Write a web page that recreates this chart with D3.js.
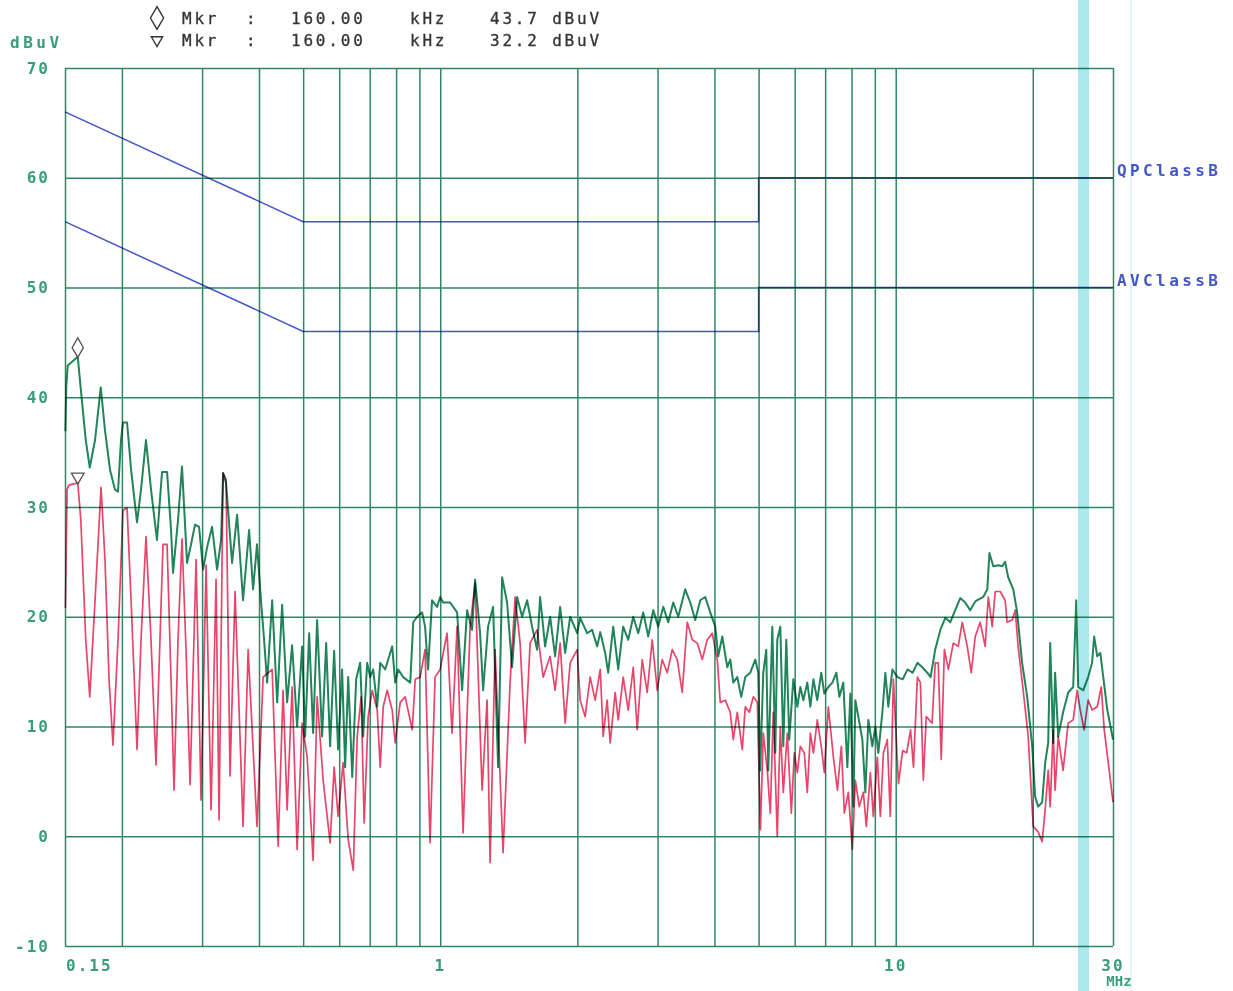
<!DOCTYPE html>
<html>
<head>
<meta charset="utf-8">
<script src="https://cdn.jsdelivr.net/npm/d3@7"></script>
<style>
  body { margin: 0; background: #fff; }
  svg { display: block; font-family: "DejaVu Sans Mono", monospace; }
</style>
</head>
<body>
<svg id="chart" width="1233" height="991"></svg>
<script>
// grid + labels
const gridFreqs = [0.15, 0.2, 0.3, 0.4, 0.5, 0.6, 0.7, 0.8, 0.9, 1, 2, 3, 4, 5, 6, 7, 8, 9, 10, 20, 30];
const xLabelFreqs = [0.15, 1, 10, 30];
const xLabelText = ['0.15', '1', '10', '30'];
const yTicks = [-10, 0, 10, 20, 30, 40, 50, 60, 70];

// EN 55022 class B limits (MHz, dBuV)
const qpLimit = [[0.15, 66], [0.5, 56], [5, 56], [5, 60], [30, 60]];
const avLimit = [[0.15, 56], [0.5, 46], [5, 46], [5, 50], [30, 50]];

// markers
const markerFreq = 0.16;
const markerPeak = 43.7;
const markerAvg = 32.2;

// peak trace (green)
const peakFreq = [0.1503,0.1510,0.1521,0.16,0.1625,0.1666,0.1700,0.1746,0.1797,0.1836,0.1883,0.1931,0.1961,0.1991,0.2011,0.2053,0.2095,0.2159,0.2203,0.2259,0.2317,0.2388,0.2450,0.2513,0.2564,0.2590,0.2656,0.2710,0.2780,0.2837,0.2895,0.2954,0.3015,0.3076,0.3155,0.3236,0.3302,0.3336,0.3386,0.3491,0.3581,0.3690,0.3805,0.3882,0.3960,0.4040,0.4104,0.4168,0.4275,0.4385,0.4496,0.4611,0.4729,0.4850,0.4974,0.5050,0.5154,0.5259,0.5366,0.5504,0.5617,0.5731,0.5848,0.5967,0.6088,0.6183,0.6279,0.6409,0.6537,0.6670,0.6772,0.6911,0.7017,0.7124,0.7270,0.7382,0.7570,0.7843,0.7963,0.8085,0.8292,0.8593,0.8723,0.8900,0.9125,0.9261,0.9403,0.9594,0.9841,0.9995,1.0145,1.0513,1.0890,1.1168,1.1454,1.1745,1.1926,1.2231,1.2420,1.2735,1.3063,1.3398,1.3670,1.4021,1.4380,1.4750,1.5126,1.5513,1.5910,1.6318,1.6568,1.6993,1.7428,1.7875,1.8333,1.8803,1.9285,1.9984,2.0287,2.1016,2.1546,2.2108,2.2457,2.3020,2.3375,2.3975,2.4590,2.5215,2.5868,2.6529,2.7210,2.7905,2.8620,2.9353,3.0106,3.0875,3.1668,3.2475,3.3310,3.4506,3.5393,3.6297,3.7229,3.8180,3.9160,4.0162,4.0775,4.1610,4.2686,4.3320,4.3995,4.4893,4.5800,4.6744,4.7943,4.9169,4.9921,5.0400,5.1199,5.1980,5.2510,5.3590,5.4404,5.4950,5.5800,5.6650,5.7520,5.8390,5.9590,6.0810,6.1750,6.2690,6.3960,6.4960,6.5960,6.7270,6.8640,6.9710,7.1140,7.2610,7.4090,7.5220,7.6730,7.8310,7.9520,8.0730,8.1545,8.2780,8.4480,8.5776,8.7080,8.8860,9.0226,9.1600,9.3480,9.4908,9.6340,9.8340,10.09,10.36,10.62,10.89,11.16,11.44,11.73,11.93,12.21,12.53,12.85,13.18,13.51,13.86,14.21,14.57,14.95,15.57,15.89,16.06,16.38,16.81,17.14,17.39,17.66,18.12,18.48,18.95,19.44,19.94,20.24,20.55,20.97,21.29,21.62,21.84,22.17,22.39,22.74,23.31,23.92,24.53,24.91,25.16,25.80,26.46,26.99,27.27,27.70,28.13,28.56,29.15,30.0];
const peakLevel = [36.9,41.1,42.9,43.7,40.7,36.1,33.6,36.1,40.9,37.0,33.4,31.6,31.4,36.1,37.7,37.7,33.4,28.6,31.6,36.1,31.6,27.0,33.2,33.2,27.9,24.0,28.8,33.7,24.9,26.6,28.4,28.2,24.3,26.3,28.2,24.3,27.0,33.1,32.2,24.9,29.3,21.5,27.9,22.5,26.6,21.5,17.9,14.0,21.5,12.2,21.1,12.2,17.4,10.0,17.3,9.1,18.5,9.4,19.7,9.1,17.6,8.2,16.9,7.9,15.2,6.3,14.5,5.4,14.3,15.8,9.1,15.8,14.5,15.2,11.8,15.8,15.2,17.3,14.0,15.2,14.5,14.0,19.5,20.0,20.4,19.1,15.2,21.5,20.9,21.8,21.3,21.3,20.4,13.3,20.6,18.8,23.4,18.5,13.3,19.1,20.9,6.3,23.6,21.3,15.4,21.8,20.0,21.5,19.1,17.0,21.8,17.3,20.0,16.4,20.9,16.7,20.0,18.5,19.9,18.5,18.8,17.3,18.6,16.7,14.9,19.1,15.2,19.1,17.9,20.0,18.5,20.4,18.2,20.6,19.1,20.9,19.5,21.3,20.0,22.5,21.3,19.7,21.5,21.8,20.4,19.1,16.4,18.2,15.4,16.1,14.0,14.5,12.7,14.5,14.9,16.1,14.9,6.0,14.9,17.0,6.0,19.1,7.6,17.9,19.1,8.2,17.9,8.8,14.3,11.8,13.6,12.4,14.0,11.8,14.3,12.4,14.9,13.0,13.6,14.0,14.9,12.7,14.0,6.3,13.0,2.7,12.4,10.9,8.8,4.0,10.6,8.2,10.0,7.6,11.3,14.9,11.8,15.2,14.5,14.3,15.2,14.9,15.8,15.4,14.9,14.5,17.0,18.8,19.9,19.5,20.6,21.7,21.3,20.6,21.4,21.8,22.5,25.8,24.6,24.7,24.6,25.0,23.6,22.5,20.4,15.8,12.7,8.2,3.6,2.7,3.1,6.7,8.5,17.6,8.5,14.9,9.1,11.3,13.1,13.6,21.5,13.6,13.3,14.5,15.8,18.2,16.4,16.7,14.5,11.5,8.8];

// average trace (red)
const avgFreq = [0.1503,0.1516,0.1530,0.16,0.1625,0.1666,0.1700,0.1746,0.1800,0.1836,0.1874,0.1912,0.1961,0.2011,0.2053,0.2095,0.2159,0.2203,0.2259,0.2317,0.2376,0.2462,0.2513,0.2564,0.2603,0.2656,0.2710,0.2766,0.2823,0.2910,0.2984,0.3061,0.3139,0.3219,0.3269,0.3336,0.3386,0.3455,0.3544,0.3690,0.3786,0.3960,0.4084,0.4275,0.4406,0.4518,0.4611,0.4729,0.4850,0.4974,0.5102,0.5259,0.5366,0.5532,0.5731,0.5848,0.5967,0.6119,0.6279,0.6442,0.6571,0.6705,0.6807,0.6946,0.7088,0.7270,0.7382,0.7495,0.7648,0.7843,0.7963,0.8167,0.8376,0.8679,0.8811,0.9033,0.9261,0.9498,0.9741,0.9995,1.0350,1.0617,1.0890,1.1224,1.1630,1.1926,1.2356,1.2672,1.2866,1.3195,1.3739,1.4235,1.4600,1.4975,1.5358,1.5752,1.6318,1.6825,1.7428,1.7875,1.8333,1.8803,1.9285,1.9984,2.0287,2.0804,2.1337,2.1884,2.2457,2.2790,2.3250,2.3610,2.4215,2.4590,2.5215,2.5868,2.6529,2.7070,2.7760,2.8470,2.9200,2.9950,3.0710,3.1505,3.2310,3.3140,3.3980,3.4860,3.5750,3.6670,3.7610,3.8570,3.9560,4.0570,4.1190,4.2245,4.3320,4.3995,4.4893,4.6040,4.6744,4.7700,4.8680,4.9680,5.0460,5.1200,5.2250,5.3050,5.3860,5.4950,5.5800,5.6650,5.7810,5.9000,5.9900,6.0810,6.1750,6.3000,6.3960,6.4960,6.5960,6.7270,6.8640,6.9710,7.1140,7.2980,7.4480,7.5980,7.7130,7.8710,8.0320,8.1545,8.3200,8.4910,8.6210,8.7980,8.9310,9.1140,9.2550,9.3970,9.5860,9.7300,9.8840,10.14,10.36,10.57,10.78,10.94,11.16,11.33,11.50,11.67,12.02,12.21,12.40,12.59,12.79,13.05,13.38,13.72,14.00,14.36,14.65,14.95,15.33,15.72,15.97,16.29,16.54,16.96,17.39,17.56,18.03,18.30,18.57,19.05,19.54,20.04,20.55,20.97,21.29,21.62,21.84,22.17,22.39,22.74,23.31,23.92,24.53,25.03,25.42,25.93,26.46,26.99,27.70,28.27,28.70,29.29,30.0];
const avgLevel = [20.8,31.6,32.0,32.2,28.8,17.9,12.7,21.5,31.8,25.2,14.3,8.3,17.9,29.7,29.9,21.5,7.9,17.9,27.3,17.9,6.5,26.6,26.6,14.3,4.2,17.9,27.1,17.0,4.7,25.2,3.3,24.7,2.4,23.4,1.5,33.1,32.5,5.5,22.3,0.9,17.0,0.9,14.5,15.2,-0.9,13.3,2.4,13.6,-1.2,10.3,7.2,-2.2,12.7,5.1,-0.6,6.3,1.8,6.7,-0.3,-3.1,9.1,12.7,1.2,10.9,13.3,11.5,6.3,11.8,13.3,11.5,8.5,12.2,12.7,9.7,14.3,14.5,17.0,-0.6,14.5,15.2,18.5,9.4,19.1,0.3,19.1,23.1,4.2,12.4,-2.4,17.0,-1.5,14.0,21.8,17.6,8.5,17.6,18.8,14.5,16.4,13.3,17.6,10.3,15.8,17.0,12.4,10.9,14.5,12.4,15.2,9.1,12.4,8.5,13.1,10.6,14.5,11.5,15.4,9.7,16.1,13.1,17.9,13.3,16.1,14.9,17.0,16.1,13.1,19.5,17.9,17.6,16.1,17.9,18.5,16.1,12.2,12.4,11.3,8.8,11.3,7.9,11.8,11.3,12.7,12.2,0.6,9.4,6.0,2.1,11.3,0.0,10.0,4.0,9.4,2.1,7.6,5.8,8.2,7.6,4.0,9.4,7.6,10.6,8.2,5.8,11.8,7.2,4.2,8.2,2.1,4.0,-1.2,5.1,2.7,4.0,0.9,5.8,1.8,7.2,1.8,7.6,8.8,1.8,14.3,4.8,7.8,7.6,9.7,6.3,14.5,14.0,5.1,10.9,10.3,15.8,15.8,7.0,17.0,15.2,17.6,17.3,19.5,17.3,14.9,18.2,19.5,17.3,21.8,19.1,22.3,22.3,21.5,19.5,19.7,20.6,17.3,13.3,9.1,0.9,0.4,-0.5,2.4,6.0,2.7,9.7,4.2,9.1,6.0,10.3,10.6,13.3,11.5,9.7,12.4,11.5,11.8,13.6,9.7,6.7,3.1];

const gridColor = '#2f8763';
const labelColor = '#3a9c78';
const limitColor = '#4256c6';
const peakColor = '#21845a';
const avgColor = '#e8456a';

const margin = { top: 68, right: 120, bottom: 45, left: 65 };
const width = 1113 - margin.left;
const height = 946 - margin.top;

const x = d3.scaleLog().domain([0.15, 30]).range([0, width]);
const y = d3.scaleLinear().domain([-10, 70]).range([height, 0]);

const svg = d3.select('#chart');
const chart = svg.append('g')
  .attr('transform', `translate(${margin.left}, ${margin.top})`);

// vertical grid lines
const xGrid = chart.append('g')
  .attr('transform', `translate(0, ${height})`)
  .call(d3.axisBottom(x).tickValues(gridFreqs).tickSize(-height).tickFormat(''));
xGrid.select('.domain').remove();
xGrid.selectAll('line').attr('stroke', gridColor).attr('stroke-width', 1.5);

// horizontal grid lines + y labels
const yGrid = chart.append('g')
  .call(d3.axisLeft(y).tickValues(yTicks).tickSize(-width).tickPadding(15).tickFormat(d => String(d)));
yGrid.select('.domain').remove();
yGrid.selectAll('line').attr('stroke', gridColor).attr('stroke-width', 1.5);
yGrid.selectAll('text')
  .attr('fill', labelColor)
  .attr('font-size', 16)
  .attr('font-weight', 'bold')
  .attr('font-family', '"DejaVu Sans Mono", monospace')
  .attr('letter-spacing', 2);

// x labels
chart.append('g').selectAll('text')
  .data(xLabelFreqs)
  .enter()
  .append('text')
    .attr('x', (d, i) => i === 0 ? x(d) + 1 : x(d))
    .attr('y', height + 25)
    .attr('text-anchor', (d, i) => i === 0 ? 'start' : 'middle')
    .attr('fill', labelColor)
    .attr('font-size', 16)
    .attr('font-weight', 'bold')
    .attr('letter-spacing', 2)
    .text((d, i) => xLabelText[i]);

chart.append('text')
  .attr('x', x(30) + 6)
  .attr('y', height + 40)
  .attr('text-anchor', 'middle')
  .attr('fill', labelColor)
  .attr('font-size', 14)
  .attr('font-weight', 'bold')
  .text('MHz');

chart.append('text')
  .attr('x', -55)
  .attr('y', -20)
  .attr('fill', labelColor)
  .attr('font-size', 16)
  .attr('font-weight', 'bold')
  .attr('letter-spacing', 3.5)
  .text('dBuV');

// limit lines
const line = d3.line().x(d => x(d[0])).y(d => y(d[1]));

[[qpLimit, 'QPClassB'], [avLimit, 'AVClassB']].forEach(([lim, name]) => {
  chart.append('path')
    .datum(lim)
    .attr('d', line)
    .attr('fill', 'none')
    .attr('stroke', limitColor)
    .attr('stroke-width', 1.5)
    .style('mix-blend-mode', 'multiply');
  chart.append('text')
    .attr('x', width + 4)
    .attr('y', y(lim[lim.length - 1][1]) - 2)
    .attr('fill', limitColor)
    .attr('font-size', 16)
    .attr('font-weight', 'bold')
    .attr('letter-spacing', 3.4)
    .text(name);
});

// traces
const avgData = avgFreq.map((f, i) => [f, avgLevel[i]]);
const peakData = peakFreq.map((f, i) => [f, peakLevel[i]]);

chart.append('path')
  .datum(avgData)
  .attr('d', line)
  .attr('fill', 'none')
  .attr('stroke', avgColor)
  .attr('stroke-width', 1.7)
  .attr('stroke-linejoin', 'round')
  .style('mix-blend-mode', 'multiply');

chart.append('path')
  .datum(peakData)
  .attr('d', line)
  .attr('fill', 'none')
  .attr('stroke', peakColor)
  .attr('stroke-width', 2)
  .attr('stroke-linejoin', 'round')
  .style('mix-blend-mode', 'multiply');

// marker symbols
chart.append('path')
  .attr('d', d3.symbol(d3.symbolDiamond, 110)())
  .attr('transform', `translate(${x(markerFreq)}, ${y(markerPeak) - 9})`)
  .attr('fill', 'none')
  .attr('stroke', '#555')
  .attr('stroke-width', 1.3);

chart.append('path')
  .attr('d', d3.symbol(d3.symbolTriangle, 70)())
  .attr('transform', `translate(${x(markerFreq)}, ${y(markerAvg) - 6}) rotate(180)`)
  .attr('fill', 'none')
  .attr('stroke', '#555')
  .attr('stroke-width', 1.3);

// marker header
const header = svg.append('g')
  .attr('fill', '#333')
  .attr('stroke', '#333')
  .attr('stroke-width', 0.3)
  .attr('font-size', 16)
  .attr('letter-spacing', 2.8);

const rows = [
  [d3.symbolDiamond, 150, markerFreq, markerPeak, 24],
  [d3.symbolTriangle, 55, markerFreq, markerAvg, 46]
];
rows.forEach(([shape, size, f, v, yy], i) => {
  header.append('path')
    .attr('d', d3.symbol(shape, size)())
    .attr('transform', `translate(157, ${yy - 6})` + (i === 1 ? ' rotate(180)' : ''))
    .attr('fill', 'none')
    .attr('stroke', '#333')
    .attr('stroke-width', 1.4);
  header.append('text').attr('x', 182).attr('y', yy).text('Mkr');
  header.append('text').attr('x', 246).attr('y', yy).text(':');
  header.append('text').attr('x', 291).attr('y', yy).text((f * 1000).toFixed(2));
  header.append('text').attr('x', 410).attr('y', yy).text('kHz');
  header.append('text').attr('x', 490).attr('y', yy).text(v.toFixed(1) + ' dBuV');
});

// scanner streaks
svg.append('rect')
  .attr('x', 1078).attr('y', 0).attr('width', 11).attr('height', 991)
  .attr('fill', '#ace9ef')
  .style('mix-blend-mode', 'multiply');
svg.append('rect')
  .attr('x', 1130).attr('y', 0).attr('width', 2).attr('height', 991)
  .attr('fill', '#e4f5f7')
  .style('mix-blend-mode', 'multiply');
</script>
</body>
</html>
